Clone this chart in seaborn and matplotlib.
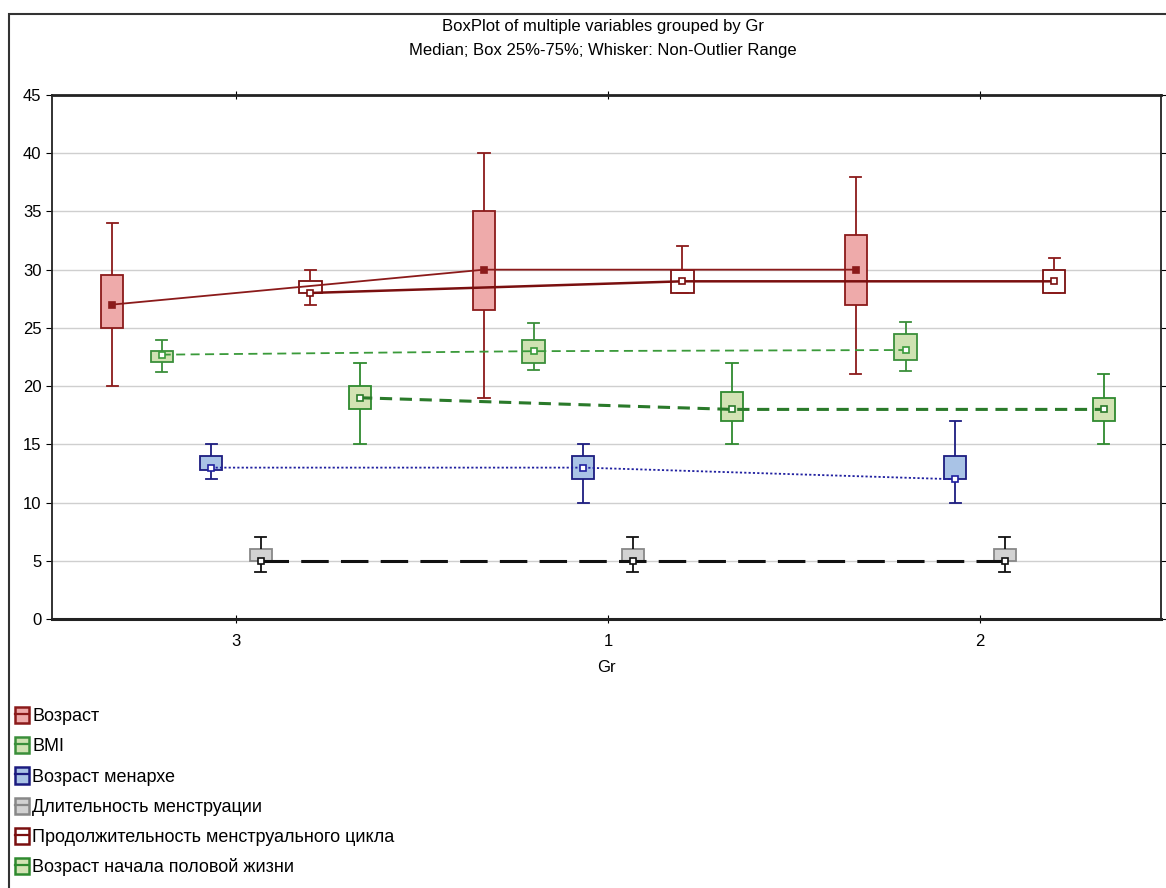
import numpy as np
import pandas as pd
import matplotlib
matplotlib.use("Agg")
import matplotlib.pyplot as plt
import seaborn as sns
from matplotlib.patches import Patch, Rectangle
from matplotlib.lines import Line2D
from matplotlib.legend_handler import HandlerTuple

# Группы в порядке отображения
groups = ["3", "1", "2"]
variables = ["Возраст", "BMI", "Возраст менархе", "Длительность менструации",
             "Продолжительность менструального цикла", "Возраст начала половой жизни"]

# min, Q1, медиана, Q3, max для групп 3, 1, 2
vozrast = [[20, 25, 27, 29.5, 34], [19, 26.5, 30, 35, 40], [21, 27, 30, 33, 38]]
bmi = [[21.2, 22.1, 22.7, 23, 24], [21.4, 22, 23, 24, 25.4], [21.3, 22.2, 23.1, 24.5, 25.5]]
menarhe = [[12, 12.8, 13, 14, 15], [10, 12, 13, 14, 15], [10, 12, 12, 14, 17]]
dlitelnost = [[4, 5, 5, 6, 7], [4, 5, 5, 6, 7], [4, 5, 5, 6, 7]]
cikl = [[27, 28, 28, 29, 30], [28, 28, 29, 30, 32], [28, 28, 29, 30, 31]]
nachalo = [[15, 18, 19, 20, 22], [15, 17, 18, 19.5, 22], [15, 17, 18, 19, 21]]

summaries = [vozrast, bmi, menarhe, dlitelnost, cikl, nachalo]

fill_colors = ["#eeaaaa", "#cfe2b2", "#a9c3e6", "#d2d2d2", "#ffffff", "#d3e3b4"]
edge_colors = ["#8b1a1a", "#3a8f3a", "#1c1c80", "#888888", "#7a0f0f", "#2f8a2f"]
line_colors = ["#8b1a1a", "#3a9a3a", "#2020a0", "#111111", "#7a0f0f", "#2a7a2a"]
line_styles = ["-", (0, (5, 3)), (0, (1.2, 1.2)), (0, (9, 4)), "-", (0, (4, 2.5))]
line_widths = [1.3, 1.3, 1.3, 2.2, 1.8, 2.2]
marker_faces = ["#8b1a1a", "white", "white", "white", "white", "white"]
whisker_colors = ["#8b1a1a", "#3a8f3a", "#1c1c80", "#111111", "#8b1a1a", "#2f8a2f"]

# длинная таблица: 5 значений на ящик дают ровно эти квартили
rows = []
for var, summ in zip(variables, summaries):
    for gr, vals in zip(groups, summ):
        for v in vals:
            rows.append({"Gr": gr, "variable": var, "value": v})
df = pd.DataFrame(rows)

plt.rcParams["font.family"] = ["Liberation Sans Narrow", "Liberation Sans", "DejaVu Sans"]

fig = plt.figure(figsize=(11.66, 8.88), dpi=100)
ax = fig.add_axes([52 / 1166, 1 - 619 / 888, (1161 - 52) / 1166, (619 - 95) / 888])

for i, var in enumerate(variables):
    sub = df[df["variable"] == var]
    sns.boxplot(data=sub, x="Gr", y="value", hue="variable", order=groups,
                hue_order=variables, palette=dict(zip(variables, fill_colors)),
                saturation=1, width=0.8, gap=0.55, whis=(0, 100), dodge=True,
                linecolor=whisker_colors[i], linewidth=1.3, legend=False,
                boxprops={"edgecolor": edge_colors[i]},
                medianprops={"linewidth": 0}, ax=ax)

for i, var in enumerate(variables):
    sub = df[df["variable"] == var]
    sns.pointplot(data=sub, x="Gr", y="value", hue="variable", order=groups,
                  hue_order=variables, palette=dict(zip(variables, line_colors)),
                  estimator="median", errorbar=None, dodge=0.8 / 6 * 5,
                  markers="s", linestyles=line_styles[i], linewidth=line_widths[i],
                  markersize=4.5, markeredgewidth=1.2,
                  markerfacecolor=marker_faces[i], legend=False, ax=ax)

ax.set_xlim(-0.495, 2.487)
ax.set_ylim(0, 45)
ax.set_yticks(np.arange(0, 46, 5))
ax.yaxis.grid(True, color="#cfcfcf", linewidth=1)
ax.xaxis.grid(False)
ax.set_axisbelow(True)
ax.set_ylabel("")
ax.set_xlabel("Gr", fontsize=12, labelpad=8)
ax.tick_params(axis="y", labelsize=12, direction="out", length=4, right=True)
ax.tick_params(axis="x", labelsize=12, direction="inout", length=6, top=True, pad=8)
for side in ["left", "right"]:
    ax.spines[side].set_linewidth(1.3)
ax.spines["top"].set_linewidth(2)
ax.spines["bottom"].set_linewidth(2.2)
for s in ax.spines.values():
    s.set_color("#222222")

fig.text(603 / 1166, 1 - 27 / 888, "BoxPlot of multiple variables grouped by Gr",
         ha="center", va="center", fontsize=12)
fig.text(603 / 1166, 1 - 51 / 888, "Median; Box 25%-75%; Whisker: Non-Outlier Range",
         ha="center", va="center", fontsize=12)

# значки легенды: ящик с линией посередине
handles = [(Patch(facecolor=f, edgecolor=e, linewidth=1.8),
            Line2D([], [], color=e, linewidth=1.6))
           for f, e in zip(fill_colors, edge_colors)]
fig.legend(handles, variables, loc="upper left",
           handler_map={tuple: HandlerTuple(ndivide=1, pad=0)},
           bbox_to_anchor=(15 / 1166, 1 - 707 / 888), frameon=False,
           fontsize=13, handlelength=0.75, handleheight=1.0, handletextpad=0.2,
           labelspacing=0.66, borderaxespad=0, borderpad=0)

# рамка всего рисунка (видны левый и верхний край)
fig.patches.append(Rectangle((9 / 1166, -0.05), 1.2, 1 - 14 / 888 + 0.05,
                             transform=fig.transFigure, fill=False,
                             edgecolor="#333333", linewidth=1.5))

fig.savefig("out.png", dpi=100)
